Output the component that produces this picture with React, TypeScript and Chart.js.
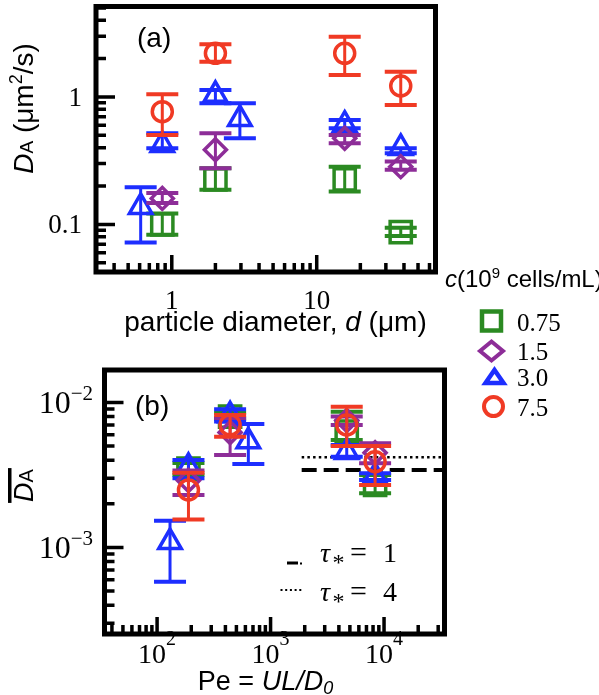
import React, { useEffect, useRef } from 'react';
import { Chart, registerables } from 'chart.js';
Chart.register(...registerables);

const SERIF = '"Liberation Serif", "Times New Roman", serif';
const SANS = '"Liberation Sans", Arial, sans-serif';

const COL_GREEN = '#2b8a22';
const COL_PURPLE = '#8d2d98';
const COL_BLUE = '#1d2eff';
const COL_RED = '#f03a24';

// ---------- Panel (a): D_A vs particle diameter d ----------
const A_X_RANGE = [0.32, 66];
const A_Y_RANGE = [0.0423, 5.13];
const A_X_TICKS = [1, 10];
const A_X_LABELS = ['1', '10'];
const A_Y_TICKS = [0.1, 1];
const A_Y_LABELS = ['0.1', '1'];

const A_D_GREEN = [0.86, 2.0, 15.6, 38];
const A_GREEN = [0.1, 0.226, 0.226, 0.087];
const A_GREEN_LO = [0.083, 0.187, 0.181, 0.081];
const A_GREEN_HI = [0.122, 0.276, 0.284, 0.094];

const A_D_PURPLE = [0.86, 2.0, 15.6, 38];
const A_PURPLE = [0.16, 0.385, 0.474, 0.284];
const A_PURPLE_LO = [0.147, 0.276, 0.434, 0.268];
const A_PURPLE_HI = [0.176, 0.519, 0.504, 0.311];

const A_D_BLUE = [0.61, 0.86, 2.0, 2.95, 15.6, 38];
const A_BLUE = [0.137, 0.42, 1.04, 0.672, 0.606, 0.398];
const A_BLUE_LO = [0.072, 0.396, 0.892, 0.474, 0.568, 0.362];
const A_BLUE_HI = [0.196, 0.519, 1.135, 0.892, 0.66, 0.396];

const A_D_RED = [0.86, 2.0, 15.6, 38];
const A_RED = [0.767, 2.2, 2.2, 1.22];
const A_RED_LO = [0.503, 1.89, 1.49, 0.866];
const A_RED_HI = [1.05, 2.59, 2.97, 1.58];

const LEGEND_C = ['0.75', '1.5', '3.0', '7.5'];

// ---------- Panel (b): mean D_A vs Pe ----------
const B_X_RANGE = [34.4, 34100];
const B_Y_RANGE = [0.000253, 0.01675];
const B_X_TICKS = [100, 1000, 10000];
const B_X_EXP = ['2', '3', '4'];
const B_Y_TICKS = [0.001, 0.01];
const B_Y_EXP = ['\u22123', '\u22122'];

const B_PE_GREEN = [189, 440, 4690, 8340];
const B_GREEN = [0.0035, 0.008, 0.0063, 0.0027];
const B_GREEN_LO = [0.00316, 0.0077, 0.0055, 0.00237];
const B_GREEN_HI = [0.00383, 0.0085, 0.00864, 0.00316];

const B_PE_PURPLE = [189, 440, 4690, 8340];
const B_PURPLE = [0.0029, 0.0062, 0.0075, 0.0045];
const B_PURPLE_LO = [0.0023, 0.00434, 0.007, 0.00381];
const B_PURPLE_HI = [0.0034, 0.0078, 0.008, 0.00523];

const B_PE_BLUE = [130, 189, 440, 637, 4690, 8340];
const B_BLUE = [0.00109, 0.0036, 0.00816, 0.0054, 0.00456, 0.0031];
const B_BLUE_LO = [0.00058, 0.003, 0.00738, 0.00376, 0.00422, 0.00292];
const B_BLUE_HI = [0.00153, 0.00401, 0.00898, 0.00711, 0.0051, 0.00325];

const B_PE_RED = [189, 440, 4690, 8340];
const B_RED = [0.00249, 0.007, 0.007, 0.0039];
const B_RED_LO = [0.00156, 0.00581, 0.00501, 0.0027];
const B_RED_HI = [0.00328, 0.0082, 0.00936, 0.00501];

const TAU_PE = [1880, 34100];
const TAU1 = 0.00342;
const TAU4 = 0.00419;
const TAU_LABELS = ['1', '4'];

// ---------- helpers ----------
type Seg = { t: string; size: number; fam: string; it?: boolean; dy?: number };
const fontOf = (s: Seg) => `${s.it ? 'italic ' : ''}${s.size}px ${s.fam}`;

function rich(ctx: CanvasRenderingContext2D, segs: Seg[], x: number, y: number, align: 'left' | 'center' | 'right' = 'left') {
  ctx.textAlign = 'left';
  ctx.textBaseline = 'alphabetic';
  const ws = segs.map((s) => {
    ctx.font = fontOf(s);
    return ctx.measureText(s.t).width;
  });
  const total = ws.reduce((a, b) => a + b, 0);
  let cx = align === 'left' ? x : align === 'center' ? x - total / 2 : x - total;
  segs.forEach((s, i) => {
    ctx.font = fontOf(s);
    ctx.fillText(s.t, cx, y + (s.dy || 0));
    cx += ws[i];
  });
  return total;
}

function logTicks(min: number, max: number) {
  const out: { v: number; major: boolean }[] = [];
  for (let e = Math.floor(Math.log10(min)); e <= Math.ceil(Math.log10(max)); e++) {
    for (let k = 1; k <= 9; k++) {
      const v = k * Math.pow(10, e);
      if (v > min * 1.0001 && v < max / 1.0001) out.push({ v, major: k === 1 });
    }
  }
  return out;
}

const zip = (xs: number[], ys: number[], lo: number[], hi: number[]) =>
  xs.map((x, i) => ({ x, y: ys[i], lo: lo[i], hi: hi[i] }));

function series(label: string, color: string, style: string, radius: number, data: any[]) {
  return {
    label,
    data,
    pointStyle: style,
    pointRadius: radius,
    pointBorderWidth: 3.5,
    pointBorderColor: color,
    pointBackgroundColor: 'rgba(0,0,0,0)',
    borderColor: color,
    backgroundColor: 'rgba(0,0,0,0)',
    showLine: false,
  };
}

const errorBars = {
  id: 'errorBars',
  afterDatasetDraw(chart: any, args: any) {
    const ds = chart.data.datasets[args.index];
    const meta = args.meta;
    const y = chart.scales.y;
    const ctx: CanvasRenderingContext2D = chart.ctx;
    ctx.save();
    ctx.strokeStyle = ds.borderColor;
    ds.data.forEach((d: any, i: number) => {
      if (d.lo === undefined) return;
      const el = meta.data[i];
      const px = el.x;
      const yl = y.getPixelForValue(d.lo);
      const yh = y.getPixelForValue(d.hi);
      ctx.lineWidth = 3;
      ctx.beginPath();
      ctx.moveTo(px, yl);
      ctx.lineTo(px, yh);
      ctx.stroke();
      ctx.lineWidth = 4;
      ctx.beginPath();
      ctx.moveTo(px - 16, yl);
      ctx.lineTo(px + 16, yl);
      ctx.moveTo(px - 16, yh);
      ctx.lineTo(px + 16, yh);
      ctx.stroke();
    });
    ctx.restore();
  },
};

function frameAndTicks(chart: any, yMajor: number, yMinor: number) {
  const ctx: CanvasRenderingContext2D = chart.ctx;
  const ca = chart.chartArea;
  const x = chart.scales.x;
  const y = chart.scales.y;
  ctx.save();
  ctx.strokeStyle = '#000';
  ctx.lineWidth = 3.5;
  ctx.beginPath();
  for (const t of logTicks(x.min, x.max)) {
    const px = x.getPixelForValue(t.v);
    ctx.moveTo(px, ca.bottom);
    ctx.lineTo(px, ca.bottom - (t.major ? 17 : 9));
  }
  for (const t of logTicks(y.min, y.max)) {
    const py = y.getPixelForValue(t.v);
    ctx.moveTo(ca.left, py);
    ctx.lineTo(ca.left + (t.major ? yMajor : yMinor), py);
  }
  ctx.stroke();
  ctx.lineWidth = 5;
  ctx.strokeRect(ca.left, ca.top, ca.right - ca.left, ca.bottom - ca.top);
  ctx.restore();
}

const panelA = {
  id: 'panelA',
  afterDraw(chart: any) {
    frameAndTicks(chart, 19, 10);
    const ctx: CanvasRenderingContext2D = chart.ctx;
    const ca = chart.chartArea;
    const x = chart.scales.x;
    const y = chart.scales.y;
    ctx.save();
    ctx.fillStyle = '#000';
    A_X_TICKS.forEach((v, i) =>
      rich(ctx, [{ t: A_X_LABELS[i], size: 27, fam: SERIF }], x.getPixelForValue(v), ca.bottom + 36.5, 'center'));
    A_Y_TICKS.forEach((v, i) =>
      rich(ctx, [{ t: A_Y_LABELS[i], size: 27, fam: SERIF }], ca.left - 14, y.getPixelForValue(v) + 9, 'right'));
    rich(ctx, [{ t: '(a)', size: 28, fam: SANS }], 137, 47);
    rich(ctx, [
      { t: 'particle diameter, ', size: 28, fam: SANS },
      { t: 'd', size: 28, fam: SANS, it: true },
      { t: ' (\u03bcm)', size: 28, fam: SANS },
    ], 275.5, 331, 'center');
    ctx.save();
    ctx.translate(33, 108.5);
    ctx.rotate(-Math.PI / 2);
    rich(ctx, [
      { t: 'D', size: 28, fam: SANS, it: true },
      { t: 'A', size: 19, fam: SANS },
      { t: ' (\u03bcm', size: 28, fam: SANS },
      { t: '2', size: 18, fam: SANS, dy: -11 },
      { t: '/s)', size: 28, fam: SANS },
    ], 0, 0, 'center');
    ctx.restore();
    // legend c
    rich(ctx, [
      { t: 'c', size: 24, fam: SANS, it: true },
      { t: '(10', size: 24, fam: SANS },
      { t: '9', size: 15, fam: SANS, dy: -9 },
      { t: ' cells/mL)', size: 24, fam: SANS },
    ], 445, 287);
    const baselines = [330.5, 359.5, 385.5, 415.5];
    LEGEND_C.forEach((s, i) => rich(ctx, [{ t: s, size: 25, fam: SERIF }], 517, baselines[i]));
    ctx.lineJoin = 'miter';
    ctx.lineWidth = 4.5;
    ctx.strokeStyle = COL_GREEN;
    ctx.strokeRect(491.5 - 9.5, 321 - 9.5, 19, 19);
    ctx.lineWidth = 4;
    ctx.strokeStyle = COL_PURPLE;
    ctx.beginPath();
    ctx.moveTo(491.5 - 11.5, 351);
    ctx.lineTo(491.5, 351 - 9.5);
    ctx.lineTo(491.5 + 11.5, 351);
    ctx.lineTo(491.5, 351 + 9.5);
    ctx.closePath();
    ctx.stroke();
    ctx.strokeStyle = COL_BLUE;
    ctx.lineWidth = 4.5;
    ctx.beginPath();
    ctx.moveTo(494.5, 370);
    ctx.lineTo(503.5, 383);
    ctx.lineTo(485.5, 383);
    ctx.closePath();
    ctx.stroke();
    ctx.strokeStyle = COL_RED;
    ctx.lineWidth = 4;
    ctx.beginPath();
    ctx.arc(493.5, 406.5, 9.5, 0, Math.PI * 2);
    ctx.stroke();
    ctx.restore();
  },
};

const panelB = {
  id: 'panelB',
  afterDraw(chart: any) {
    frameAndTicks(chart, 19, 10);
    const ctx: CanvasRenderingContext2D = chart.ctx;
    const ca = chart.chartArea;
    const x = chart.scales.x;
    const y = chart.scales.y;
    ctx.save();
    ctx.fillStyle = '#000';
    B_X_TICKS.forEach((v, i) =>
      rich(ctx, [
        { t: '10', size: 28, fam: SERIF },
        { t: B_X_EXP[i], size: 20, fam: SERIF, dy: -18 },
      ], x.getPixelForValue(v), ca.bottom + 29, 'center'));
    B_Y_TICKS.forEach((v, i) =>
      rich(ctx, [
        { t: '10', size: 32, fam: SERIF },
        { t: B_Y_EXP[i], size: 21, fam: SERIF, dy: -12.5 },
      ], ca.left - 11.5, y.getPixelForValue(v) + 10.5, 'right'));
    rich(ctx, [{ t: '(b)', size: 28, fam: SANS }], 135, 70);
    rich(ctx, [
      { t: 'Pe = ', size: 27, fam: SANS },
      { t: 'UL/D', size: 27, fam: SANS, it: true },
      { t: '0', size: 18, fam: SANS, it: true, dy: 4 },
    ], 265.5, 345, 'center');
    ctx.save();
    ctx.translate(33, 140.5);
    ctx.rotate(-Math.PI / 2);
    const w = rich(ctx, [
      { t: 'D', size: 27, fam: SANS, it: true },
      { t: 'A', size: 20, fam: SANS },
    ], 0, 0, 'center');
    ctx.fillRect(-w / 2 - 1, -25, w + 2, 3.5);
    ctx.restore();
    // tau legend
    const tb = [217, 255.5];
    TAU_LABELS.forEach((lab, i) => {
      rich(ctx, [{ t: '\u03c4', size: 28, fam: SERIF, it: true }], 320, tb[i]);
      rich(ctx, [{ t: '*', size: 24, fam: SERIF }], 332.5, tb[i] + 8);
      rich(ctx, [{ t: '=', size: 30, fam: SERIF }], 350, tb[i]);
      rich(ctx, [{ t: lab, size: 28, fam: SERIF }], 383, tb[i]);
    });
    ctx.fillRect(287, 216.5, 11, 3);
    ctx.fillRect(300, 217.5, 2, 2);
    for (let k = 0; k < 5; k++) ctx.fillRect(280.5 + k * 4.7, 244, 2, 2);
    ctx.restore();
  },
};

function baseOptions(xr: number[], yr: number[], padding: any) {
  return {
    animation: false,
    responsive: false,
    maintainAspectRatio: false,
    layout: { padding, autoPadding: false },
    scales: {
      x: { type: 'logarithmic', min: xr[0], max: xr[1], display: false },
      y: { type: 'logarithmic', min: yr[0], max: yr[1], display: false },
    },
    plugins: { legend: { display: false }, tooltip: { enabled: false } },
    events: [],
  };
}

export default function App() {
  const refA = useRef<HTMLCanvasElement>(null);
  const refB = useRef<HTMLCanvasElement>(null);
  useEffect(() => {
    const a = new Chart(refA.current as HTMLCanvasElement, {
      type: 'scatter',
      data: {
        datasets: [
          series('7.5', COL_RED, 'circle', 10, zip(A_D_RED, A_RED, A_RED_LO, A_RED_HI)),
          series('1.5', COL_PURPLE, 'rectRot', 11, zip(A_D_PURPLE, A_PURPLE, A_PURPLE_LO, A_PURPLE_HI)),
          series('3.0', COL_BLUE, 'triangle', 13, zip(A_D_BLUE, A_BLUE, A_BLUE_LO, A_BLUE_HI)),
          series('0.75', COL_GREEN, 'rect', 15, zip(A_D_GREEN, A_GREEN, A_GREEN_LO, A_GREEN_HI)),
        ] as any,
      },
      options: baseOptions(A_X_RANGE, A_Y_RANGE, { left: 96, top: 6.5, right: 599 - 435.5, bottom: 430 - 272 }) as any,
      plugins: [errorBars, panelA],
    });
    const b = new Chart(refB.current as HTMLCanvasElement, {
      type: 'scatter',
      data: {
        datasets: [
          series('7.5', COL_RED, 'circle', 10, zip(B_PE_RED, B_RED, B_RED_LO, B_RED_HI)),
          series('1.5', COL_PURPLE, 'rectRot', 11, zip(B_PE_PURPLE, B_PURPLE, B_PURPLE_LO, B_PURPLE_HI)),
          series('3.0', COL_BLUE, 'triangle', 13, zip(B_PE_BLUE, B_BLUE, B_BLUE_LO, B_BLUE_HI)),
          series('0.75', COL_GREEN, 'rect', 15, zip(B_PE_GREEN, B_GREEN, B_GREEN_LO, B_GREEN_HI)),
          {
            label: 'tau=1',
            data: TAU_PE.map((p) => ({ x: p, y: TAU1 })),
            showLine: true,
            borderColor: '#000',
            borderWidth: 4,
            borderDash: [15, 7],
            pointRadius: 0,
          },
          {
            label: 'tau=4',
            data: TAU_PE.map((p) => ({ x: p, y: TAU4 })),
            showLine: true,
            borderColor: '#000',
            borderWidth: 2.5,
            borderDash: [2.5, 3.2],
            pointRadius: 0,
          },
        ] as any,
      },
      options: baseOptions(B_X_RANGE, B_Y_RANGE, { left: 104.5, top: 25, right: 599 - 444.5, bottom: 350 - 289 }) as any,
      plugins: [errorBars, panelB],
    });
    return () => {
      a.destroy();
      b.destroy();
    };
  }, []);
  return (
    <div style={{ position: 'fixed', left: 0, top: 0, width: 599, height: 695, background: '#fff' }}>
      <canvas ref={refA} width={599} height={430} style={{ position: 'absolute', left: 0, top: 0, width: 599, height: 430 }} />
      <canvas ref={refB} width={599} height={350} style={{ position: 'absolute', left: 0, top: 345, width: 599, height: 350 }} />
    </div>
  );
}
